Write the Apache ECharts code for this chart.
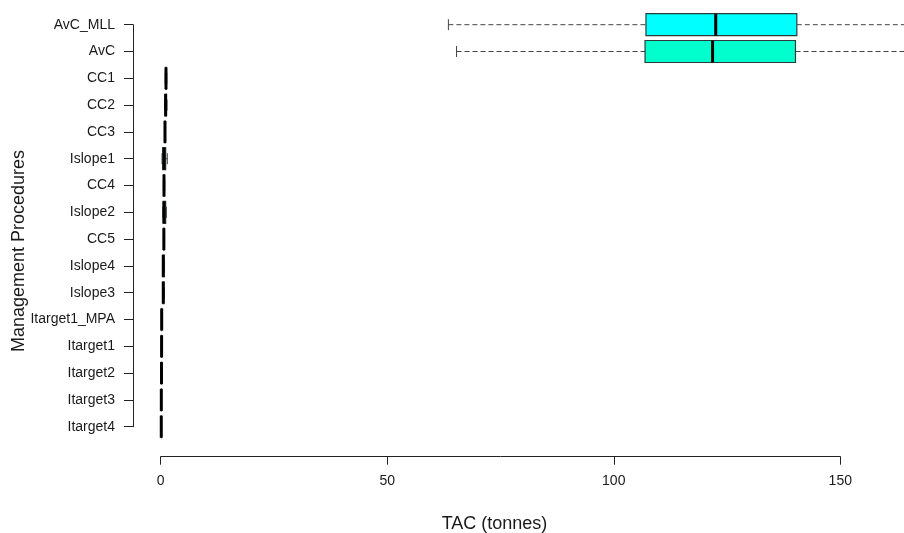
<!DOCTYPE html>
<html>
<head>
<meta charset="utf-8">
<script src="https://cdn.jsdelivr.net/npm/echarts@6/dist/echarts.min.js"></script>
<style>
html,body{margin:0;padding:0;background:#fff;}
#chart{width:904px;height:533px;}
</style>
</head>
<body>
<div id="chart"></div>
<script>
// Categories (top to bottom)
const categories = ['AvC_MLL','AvC','CC1','CC2','CC3','Islope1','CC4','Islope2','CC5','Islope4','Islope3','Itarget1_MPA','Itarget1','Itarget2','Itarget3','Itarget4'];
// Box statistics (TAC, tonnes)
const mins    = [63.5, 65.3, 1.00, 0.90, 0.85, 0.30, 0.60, 0.45, 0.60, 0.45, 0.45, 0.15, 0.13, 0.12, 0.08, 0.07];
const q1s     = [107.1,106.9,1.10, 0.95, 0.90, 0.45, 0.68, 0.55, 0.65, 0.50, 0.50, 0.19, 0.17, 0.15, 0.11, 0.10];
const medians = [122.5,121.8,1.17, 1.10, 0.95, 0.73, 0.73, 0.73, 0.70, 0.57, 0.57, 0.22, 0.20, 0.18, 0.14, 0.13];
const q3s     = [140.4,140.1,1.25, 1.25, 1.00, 1.10, 0.80, 1.10, 0.75, 0.75, 0.70, 0.25, 0.23, 0.21, 0.17, 0.16];
const maxs    = [176,  175,  1.35, 1.40, 1.05, 1.46, 0.90, 1.25, 0.85, 0.85, 0.80, 0.30, 0.27, 0.25, 0.20, 0.19];
const boxColors = ['#00FFFF','#00FFCC','#ffffff','#ffffff','#ffffff','#ffffff','#ffffff','#ffffff','#ffffff','#ffffff','#ffffff','#ffffff','#ffffff','#ffffff','#ffffff','#ffffff'];
const xTicks = [0, 50, 100, 150];

const data = categories.map((c, i) => [i, mins[i], q1s[i], medians[i], q3s[i], maxs[i]]);

const BOX_H = 22;
const CAP_H = 11;
const whiskerStyle = {stroke:'#444', lineWidth:1, lineDash:[5,3]};

function renderItem(params, api) {
  const i = api.value(0);
  const y = api.coord([0, i])[1];
  const xMin = api.coord([api.value(1), i])[0];
  const xQ1  = api.coord([api.value(2), i])[0];
  const xMed = api.coord([api.value(3), i])[0];
  const xQ3  = api.coord([api.value(4), i])[0];
  const xMax = api.coord([api.value(5), i])[0];
  const children = [
    {type:'line', shape:{x1:xMin, y1:y, x2:xQ1, y2:y}, style:whiskerStyle},
    {type:'line', shape:{x1:xQ3, y1:y, x2:xMax, y2:y}, style:whiskerStyle},
    {type:'line', shape:{x1:xMin, y1:y-CAP_H/2, x2:xMin, y2:y+CAP_H/2}, style:{stroke:'#444', lineWidth:1}},
    {type:'line', shape:{x1:xMax, y1:y-CAP_H/2, x2:xMax, y2:y+CAP_H/2}, style:{stroke:'#444', lineWidth:1}},
    {type:'rect', shape:{x:xQ1, y:y-BOX_H/2, width:xQ3-xQ1, height:BOX_H}, style:{fill:boxColors[i], stroke:'#2b3b3b', lineWidth:1.2}},
    {type:'line', shape:{x1:xMed, y1:y-BOX_H/2, x2:xMed, y2:y+BOX_H/2}, style:{stroke:'#000', lineWidth:3}}
  ];
  return {type:'group', children};
}

const chart = echarts.init(document.getElementById('chart'), null, {renderer:'canvas'});
const FONT = 'Liberation Sans, Arial, sans-serif';
chart.setOption({
  backgroundColor:'#ffffff',
  animation:false,
  grid:[
    {left:133, right:0, top:24.7, bottom:106.3},
    {left:160.7, width:679.6, top:440, bottom:76.3}
  ],
  xAxis:[
    {gridIndex:0, type:'value', min:-6.11, max:164.05, show:false},
    {gridIndex:1, type:'value', min:xTicks[0], max:xTicks[xTicks.length-1], interval:50,
     axisLine:{show:true, onZero:false, lineStyle:{color:'#222', width:1}},
     axisTick:{show:true, length:8, lineStyle:{color:'#222'}},
     axisLabel:{margin:17, fontSize:14, color:'#1a1a1a', fontFamily:FONT},
     splitLine:{show:false}}
  ],
  yAxis:[
    {gridIndex:0, type:'category', data:categories, inverse:true, boundaryGap:false,
     axisLine:{show:true, onZero:false, lineStyle:{color:'#222', width:1}},
     axisTick:{show:true, length:9, lineStyle:{color:'#222'}},
     axisLabel:{margin:18, fontSize:14, color:'#1a1a1a', fontFamily:FONT, interval:0},
     splitLine:{show:false}},
    {gridIndex:1, type:'value', show:false}
  ],
  graphic:[
    {type:'text', x:494.5, y:524, style:{text:'TAC (tonnes)', fontSize:18, fontFamily:FONT, fill:'#1a1a1a', textAlign:'center', textVerticalAlign:'middle'}},
    {type:'text', x:19, y:251, rotation:Math.PI/2, style:{text:'Management Procedures', fontSize:18, fontFamily:FONT, fill:'#1a1a1a', textAlign:'center', textVerticalAlign:'middle'}}
  ],
  series:[{
    type:'custom',
    xAxisIndex:0, yAxisIndex:0,
    renderItem,
    encode:{x:[1,2,3,4,5], y:0},
    data,
    clip:false
  }]
});
</script>
</body>
</html>
